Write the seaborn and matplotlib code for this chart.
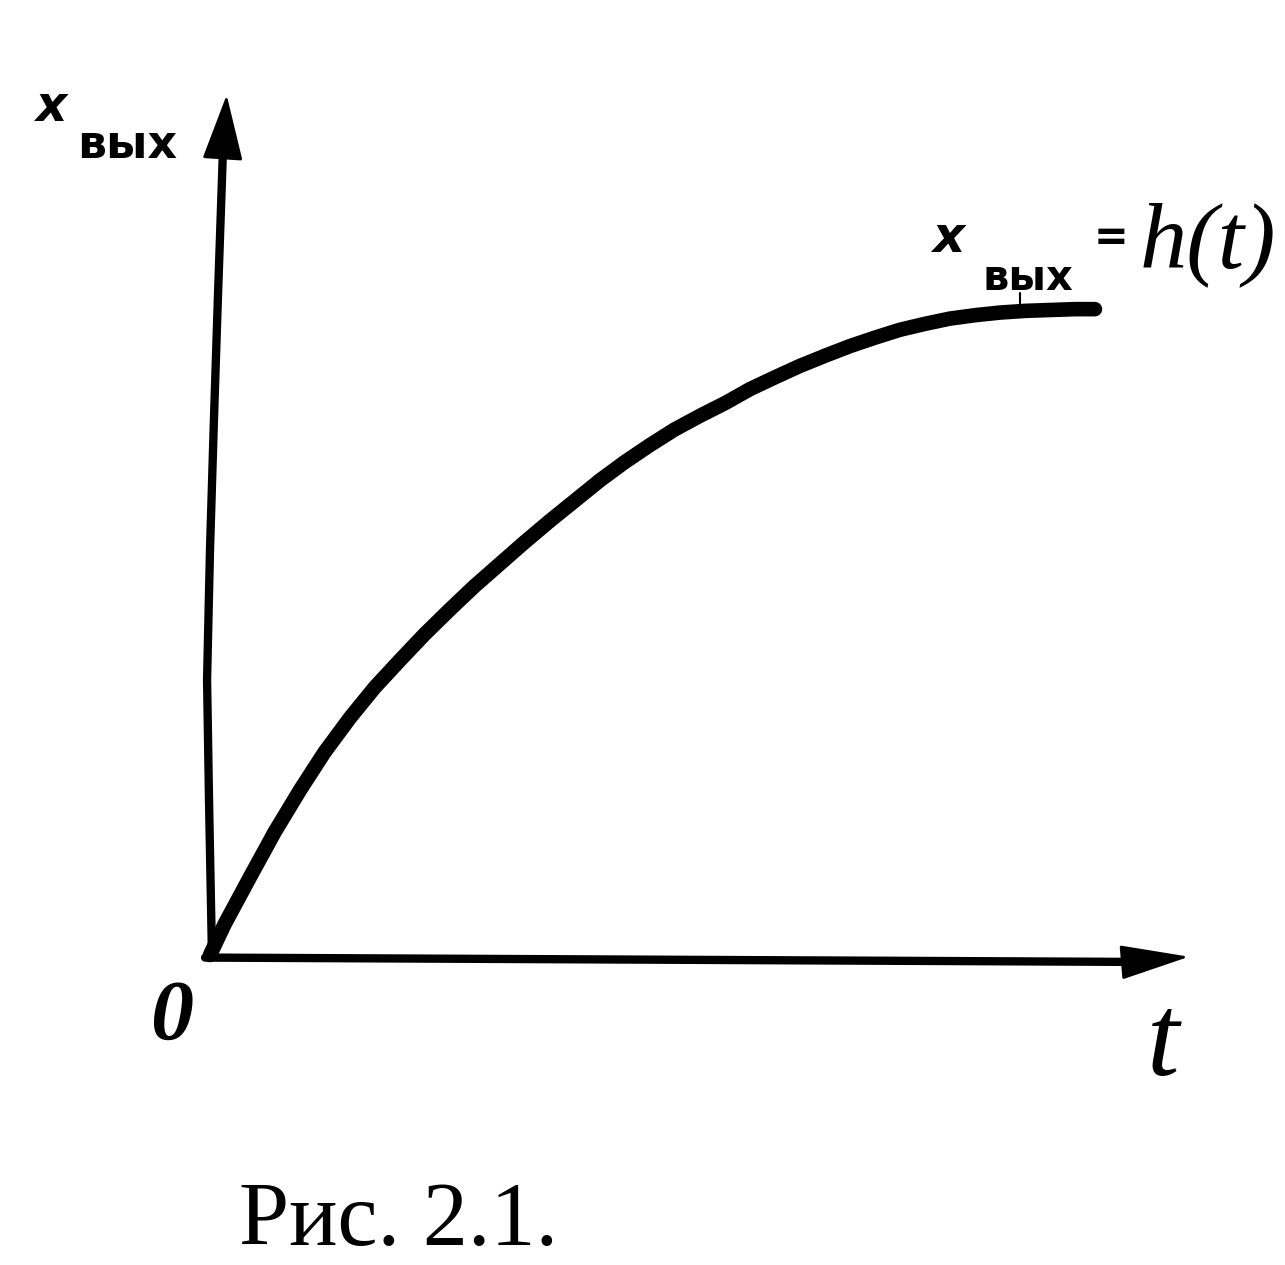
import numpy as np
import pandas as pd
import matplotlib
matplotlib.use('Agg')
import matplotlib.pyplot as plt
import seaborn as sns

# step response x_вых = h(t) (t and x both on a 0..1 scale)
t_vals = [0.000, 0.015, 0.041, 0.066, 0.092, 0.117, 0.143, 0.168, 0.194, 0.219,
          0.245, 0.270, 0.296, 0.321, 0.347, 0.372, 0.398, 0.423, 0.449, 0.474,
          0.500, 0.526, 0.551, 0.577, 0.602, 0.628, 0.653, 0.679, 0.704, 0.730,
          0.755, 0.781, 0.806, 0.832, 0.857, 0.883, 0.903]
x_vals = [0.000, 0.036, 0.091, 0.143, 0.192, 0.236, 0.276, 0.311, 0.343, 0.373,
          0.402, 0.429, 0.455, 0.480, 0.505, 0.528, 0.552, 0.573, 0.593, 0.611,
          0.627, 0.642, 0.658, 0.672, 0.685, 0.697, 0.708, 0.718, 0.727, 0.734,
          0.740, 0.744, 0.747, 0.749, 0.750, 0.751, 0.751]

# hand drawn vertical axis (slightly tilted), last point = arrow tip
yaxis_t = [0.002, -0.001, -0.003, 0.000, 0.004, 0.008, 0.013, 0.017]
yaxis_x = [0.000, 0.180, 0.320, 0.471, 0.622, 0.762, 0.928, 1.000]
# horizontal axis, last point = arrow tip
xaxis_t = [-0.005, 0.936, 0.999]
xaxis_x = [-0.003, -0.008, -0.002]
# little leader from the label down to the curve
leader_t = [0.827, 0.827]
leader_x = [0.770, 0.752]

df = pd.DataFrame({'t': t_vals, 'x': x_vals})

W, H = 1285, 1265
sns.set_theme(style='white')
fig = plt.figure(figsize=(W / 100, H / 100), dpi=100)
ax = fig.add_axes([0, 0, 1, 1])

# origin of the diagram sits at pixel (210, 955)
ax.set_xlim(-210 / 980, (W - 210) / 980)
ax.set_ylim(-(H - 955) / 860, 955 / 860)
ax.axis('off')

# axes with arrows
ax.plot(yaxis_t[:-1], yaxis_x[:-1], color='black', lw=6, solid_capstyle='round',
        solid_joinstyle='round')
ax.plot(xaxis_t[:-1], xaxis_x[:-1], color='black', lw=6, solid_capstyle='round')
ax.annotate('', xy=(yaxis_t[-1], yaxis_x[-1]), xytext=(yaxis_t[-2], yaxis_x[-2]),
            arrowprops=dict(arrowstyle='-|>,head_length=0.42,head_width=0.13',
                            mutation_scale=100, lw=2, color='black',
                            shrinkA=0, shrinkB=0))
ax.annotate('', xy=(xaxis_t[-1], xaxis_x[-1]), xytext=(xaxis_t[-2], xaxis_x[-2]),
            arrowprops=dict(arrowstyle='-|>,head_length=0.44,head_width=0.11',
                            mutation_scale=100, lw=2, color='black',
                            shrinkA=0, shrinkB=0))

# the curve
sns.lineplot(data=df, x='t', y='x', ax=ax, color='black', lw=10.5,
             solid_capstyle='round', solid_joinstyle='round', sort=False)
ax.plot(leader_t, leader_x, color='black', lw=1.5)


def px(x, y):
    return x / W, 1 - y / H


hand = dict(color='black', fontweight='bold', family='DejaVu Sans')
fig.text(*px(52, 121), 'x', fontsize=35, style='italic', ha='center', va='baseline', **hand)
fig.text(*px(127, 158), 'вых', fontsize=33, ha='center', va='baseline', **hand)

fig.text(*px(948, 252), 'x', fontsize=36, style='italic', ha='center', va='baseline', **hand)
fig.text(*px(1028, 290), 'вых', fontsize=30, ha='center', va='baseline', **hand)
fig.text(*px(1111, 250), '=', fontsize=30, ha='center', va='baseline', **hand)
fig.text(*px(1140, 267), 'h(t)', fontsize=68, style='italic', ha='left', va='baseline',
         family='Liberation Serif', color='black')

fig.text(*px(172, 1040), '0', fontsize=62, style='italic', fontweight='bold',
         ha='center', va='baseline', family='Liberation Serif', color='black')
fig.text(*px(1163, 1075), 't', fontsize=84, style='italic', ha='center', va='baseline',
         family='Liberation Serif', color='black')

fig.text(*px(399, 1245), 'Рис. 2.1.', fontsize=65, ha='center', va='baseline',
         family='Liberation Serif', color='black')

fig.savefig('out.png', dpi=100, facecolor='white')
